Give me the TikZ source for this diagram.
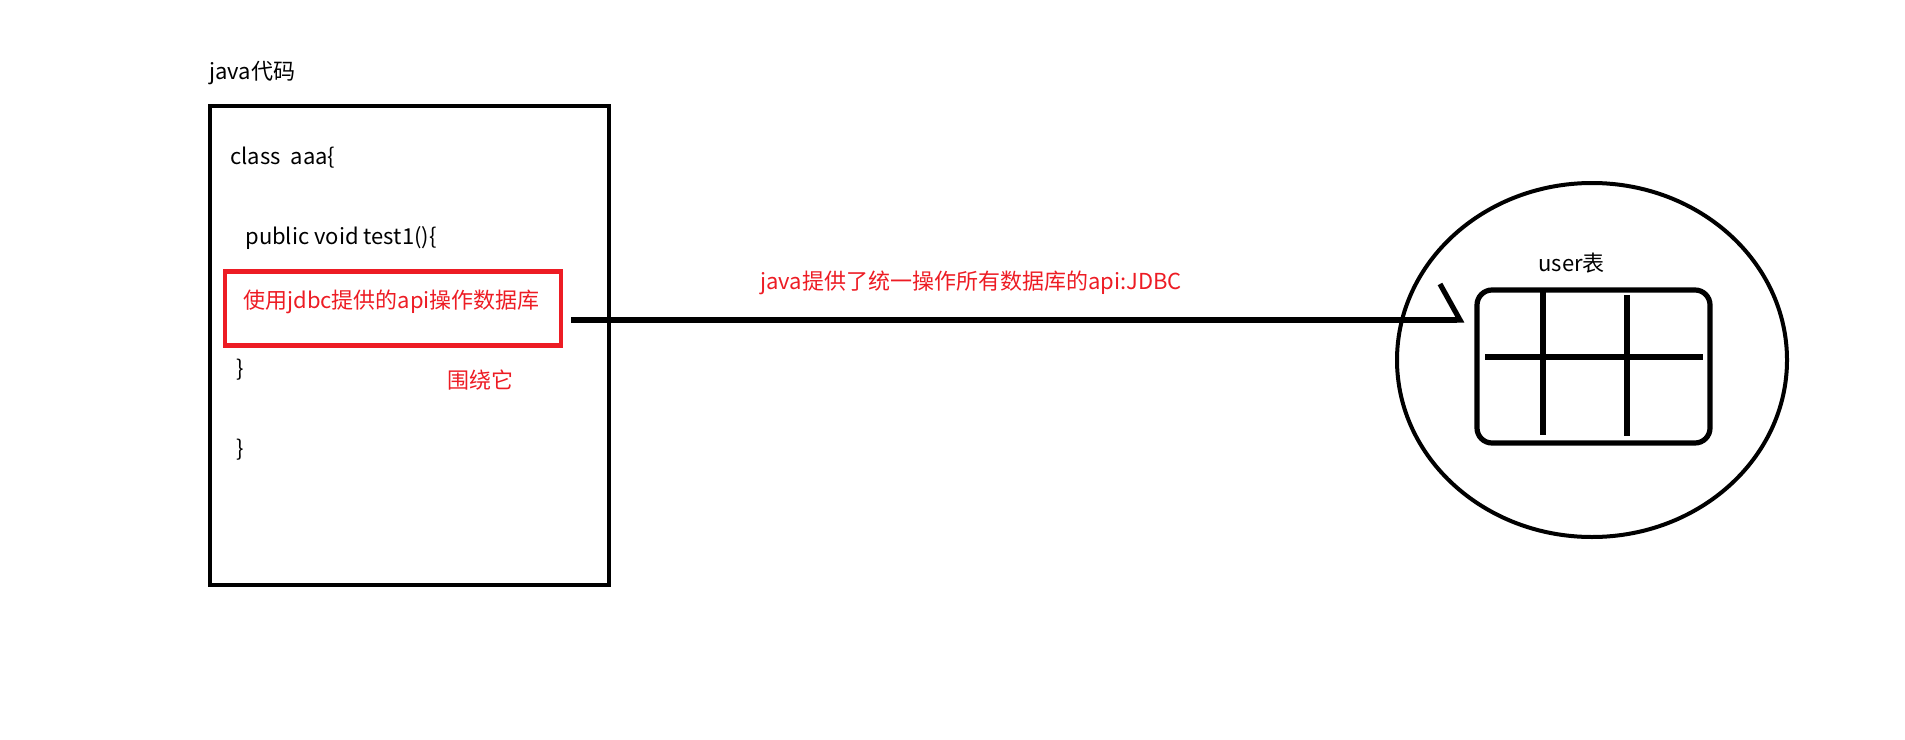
\documentclass[tikz,border=0pt]{standalone}
\usepackage{fontspec}
\newfontfamily\cjk{Noto Sans CJK SC}
\usetikzlibrary{arrows.meta,shapes.geometric,positioning}
\definecolor{paintred}{HTML}{ED1C24}

\tikzstyle{code} = [anchor=west, inner sep=0pt, font=\cjk\fontsize{11pt}{13pt}\selectfont, text=black]
\tikzstyle{redtext} = [code, text=paintred]
\tikzstyle{javabox} = [rectangle, draw=black, line width=2.3pt, minimum width=199.5pt, minimum height=239.5pt]
\tikzstyle{markbox} = [rectangle, draw=paintred, line width=2.4pt, minimum width=168pt, minimum height=37pt]
\tikzstyle{database} = [ellipse, draw=black, line width=2pt, minimum width=195pt, minimum height=177pt]
\tikzstyle{usertable} = [rectangle, rounded corners=7.5pt, draw=black, line width=2.6pt, minimum width=116.5pt, minimum height=76.5pt]
\tikzstyle{arrow} = [line width=3pt, -{Straight Barb[harpoon, length=10pt, width=36pt, line width=2.6pt]}]

\begin{document}
\begin{tikzpicture}[x=0.5pt, y=-0.5pt]
		\useasboundingbox (0,0) rectangle (1905,739);
		% Nodes
		\node (javalabel) [code] at (209,73) {java代码};
		\node (javacode) [javabox] at (409.5,345.5) {};
		\node (classline) [code] at (230,158) {class\ \ aaa\{};
		\node (methodline) [code] at (245,238) {public void test1()\{};
		\node (markbox) [markbox] at (393,308.5) {};
		\node (jdbcline) [redtext] at (243,302) {使用jdbc提供的api操作数据库};
		\node (closemethod) [code] at (236,370) {\}};
		\node (around) [redtext] at (447,380) {围绕它};
		\node (closeclass) [code] at (236,450) {\}};
		\node (apilabel) [redtext] at (760,283) {java提供了统一操作所有数据库的api:JDBC};
		\node (db) [database] at (1592,360) {};
		\node (table) [usertable] at (1593.5,366.5) {};
		\node (tablelabel) [code] at (1538,263) {user表};
		% Table grid
		\draw [line width=2.6pt] (1485,357) -- (1703,357);
		\draw [line width=2.6pt] (1543,292) -- (1543,435);
		\draw [line width=2.6pt] (1627,295) -- (1627,436);
		% Arrows
		\draw [arrow, shorten <=4pt, shorten >=5pt] ([yshift=-5.75pt]markbox.east) -- ([yshift=-5.75pt]markbox.east -| table.west);
	\end{tikzpicture}
\end{document}
